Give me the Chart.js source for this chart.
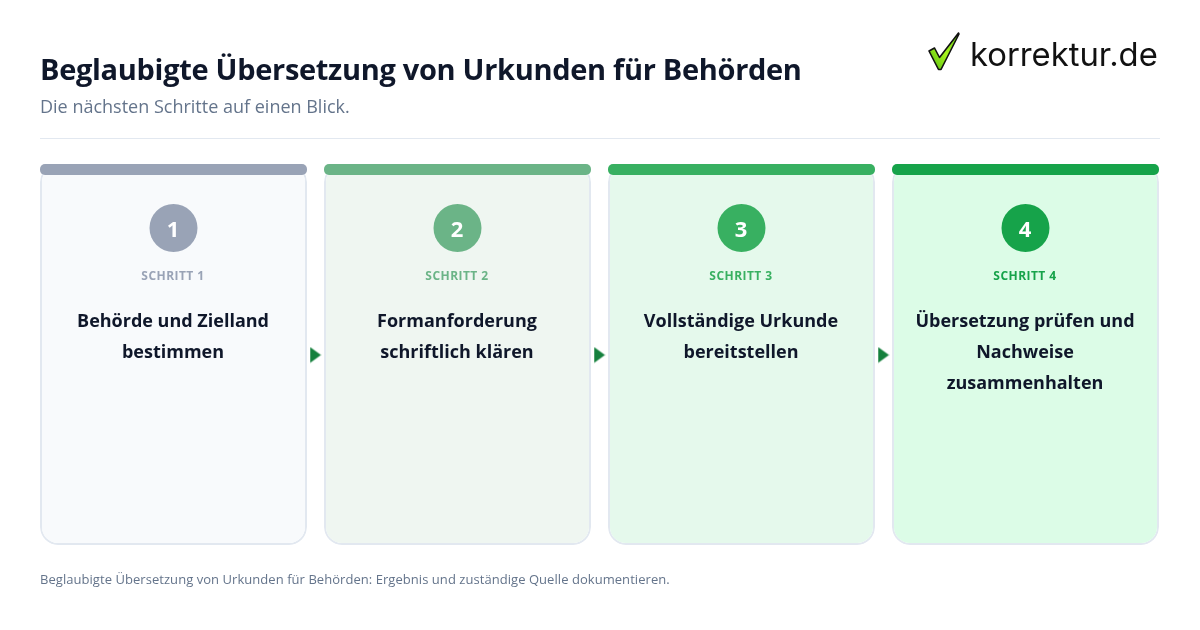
<!DOCTYPE html>
<html lang="de">
<head>
<meta charset="utf-8">
<title>Beglaubigte Übersetzung von Urkunden für Behörden</title>
<script src="https://cdn.jsdelivr.net/npm/chart.js@4"></script>
<style>
  html, body { margin: 0; padding: 0; background: #fff; }
  body { width: 1200px; height: 630px; position: relative; overflow: hidden; font-family: "Open Sans", sans-serif; }
  canvas { position: absolute; left: 0; top: 0; }
  .txt { position: absolute; left: 40px; white-space: nowrap; }
  #title { top: 48px; font-size: 29px; line-height: 42px; font-weight: 700; letter-spacing: -0.31px; color: #0f172a; }
  #sub { top: 93px; font-size: 18px; line-height: 26px; color: #64748b; }
  #rule { position: absolute; left: 40px; top: 138px; width: 1120px; height: 1px; background: #e2e8f0; }
  #foot { top: 570px; font-size: 13px; line-height: 18px; letter-spacing: 0.05px; color: #64748b; }
  #logo { position: absolute; left: 926px; top: 30px; }
  #logoText { position: absolute; left: 970px; top: 32px; font-family: Inter, sans-serif; font-size: 32.8px; line-height: 44px; color: #111; white-space: nowrap; }
</style>
</head>
<body>
<canvas id="flow" width="1200" height="630"></canvas>
<div class="txt" id="title">Beglaubigte Übersetzung von Urkunden für Behörden</div>
<div class="txt" id="sub">Die nächsten Schritte auf einen Blick.</div>
<div id="rule"></div>
<svg id="logo" width="36" height="42" viewBox="0 0 36 42">
  <defs>
    <linearGradient id="tick" x1="0" y1="1" x2="1" y2="0">
      <stop offset="0" stop-color="#4fb810"/>
      <stop offset="0.5" stop-color="#a8f41e"/>
      <stop offset="1" stop-color="#62c814"/>
    </linearGradient>
  </defs>
  <path d="M3 21 L8.5 18 L13.5 27.5 L32.5 3 L33 4 L15 39.5 L12.5 39.5 Z" fill="url(#tick)" stroke="#111" stroke-width="1.6" stroke-linejoin="round"/>
</svg>
<div id="logoText">korrektur.de</div>
<div class="txt" id="foot">Beglaubigte Übersetzung von Urkunden für Behörden: Ergebnis und zuständige Quelle dokumentieren.</div>

<script>
const stepLabels = ['SCHRITT 1', 'SCHRITT 2', 'SCHRITT 3', 'SCHRITT 4'];
const stepNumbers = ['1', '2', '3', '4'];
const stepTitles = [
  ['Behörde und Zielland', 'bestimmen'],
  ['Formanforderung', 'schriftlich klären'],
  ['Vollständige Urkunde', 'bereitstellen'],
  ['Übersetzung prüfen und', 'Nachweise', 'zusammenhalten']
];
const cardValues = [1, 1, 1, 1];
const arrowSlots = [0.5, 1.5, 2.5];

const accentColors = ['#99a3b6', '#6bb487', '#38b061', '#16a34a'];
const cardColors = ['#f8fafc', '#eff6f1', '#e5f9ec', '#dcfce7'];

// the card is 381px tall, so y runs 0..1 over that
const cardPx = 381;
const levelFromTop = px => 1 - px / cardPx;

// small right-pointing arrow for the gaps between cards
const arrowIcon = document.createElement('canvas');
arrowIcon.width = 12;
arrowIcon.height = 17;
const ai = arrowIcon.getContext('2d');
ai.fillStyle = '#15803d';
ai.beginPath();
ai.moveTo(0.5, 0.5);
ai.lineTo(11.5, 8.5);
ai.lineTo(0.5, 16.5);
ai.closePath();
ai.fill();

const cardText = {
  id: 'cardText',
  afterDatasetsDraw(chart) {
    const { ctx, scales: { x } } = chart;
    const top = chart.chartArea.top;
    ctx.save();
    ctx.textAlign = 'center';
    ctx.textBaseline = 'alphabetic';
    stepLabels.forEach((label, i) => {
      const cx = x.getPixelForValue(i) - 0.5;
      ctx.letterSpacing = '0px';
      ctx.fillStyle = '#ffffff';
      ctx.font = '700 22px "Open Sans"';
      ctx.fillText(stepNumbers[i], cx, top + 73);
      ctx.fillStyle = accentColors[i];
      ctx.font = '700 12px "Open Sans"';
      ctx.letterSpacing = '0.45px';
      ctx.fillText(label, cx, top + 116);
      ctx.letterSpacing = '0px';
      ctx.fillStyle = '#0f172a';
      ctx.font = '700 18px "Open Sans"';
      stepTitles[i].forEach((line, k) => ctx.fillText(line, cx, top + 163 + k * 31));
    });
    ctx.restore();
  }
};

new Chart(document.getElementById('flow'), {
  data: {
    labels: stepLabels,
    datasets: [
      {
        type: 'scatter',
        xAxisID: 'xGap',
        data: arrowSlots.map(s => ({ x: s, y: levelFromTop(191) })),
        pointStyle: arrowIcon,
        order: 1
      },
      {
        type: 'line',
        showLine: false,
        data: cardValues.map(() => levelFromTop(64)),
        pointRadius: 24,
        pointBackgroundColor: accentColors,
        pointBorderWidth: 0,
        order: 2
      },
      {
        type: 'bar',
        data: cardValues.map(v => [v - 11 / cardPx, v]),
        backgroundColor: accentColors,
        borderRadius: 5,
        borderSkipped: false,
        barPercentage: 267 / 284,
        categoryPercentage: 1,
        grouped: false,
        order: 3
      },
      {
        type: 'bar',
        data: cardValues,
        backgroundColor: cardColors,
        borderColor: '#e2e8f0',
        borderWidth: 2,
        borderRadius: 18,
        borderSkipped: false,
        barPercentage: 267 / 284,
        categoryPercentage: 1,
        grouped: false,
        order: 4
      }
    ]
  },
  options: {
    responsive: false,
    animation: false,
    devicePixelRatio: 1,
    layout: { padding: { left: 31.5, right: 32.5, top: 164, bottom: 85 } },
    plugins: { legend: { display: false }, tooltip: { enabled: false } },
    scales: {
      x: { type: 'category', offset: true, display: false },
      xGap: { type: 'linear', min: -0.5, max: 3.5, display: false },
      y: { min: 0, max: 1, display: false }
    }
  },
  plugins: [cardText]
});
</script>
</body>
</html>
